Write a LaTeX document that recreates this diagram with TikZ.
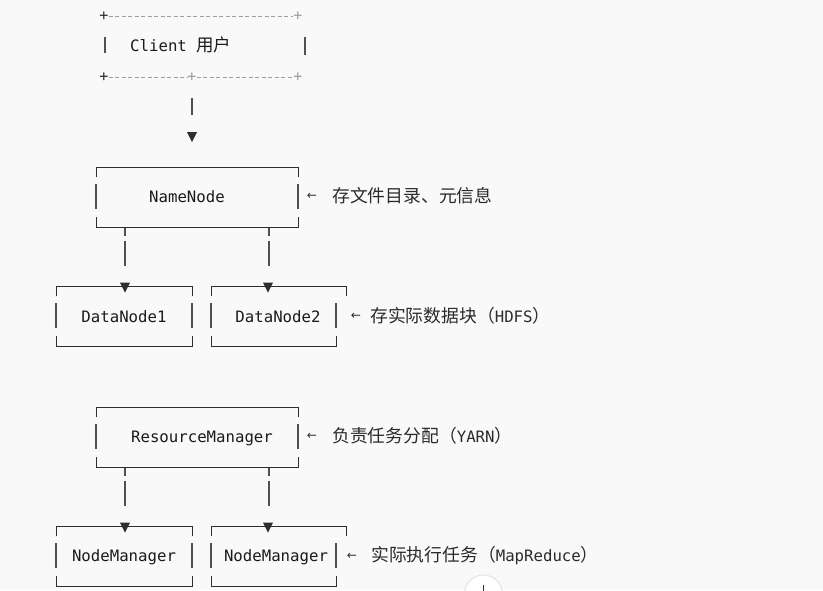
\documentclass[tikz,border=0pt]{standalone}
\usepackage{fontspec}
\setmainfont{DejaVu Sans Mono}
\newfontfamily\cjk{Noto Sans CJK SC}
\newfontfamily\symf{DejaVu Sans}
\definecolor{bgc}{HTML}{F9F9F9}
\definecolor{linec}{HTML}{2E2E2E}
\definecolor{sidec}{HTML}{505050}
\definecolor{dashc}{HTML}{9E9E9E}
\definecolor{txtc}{HTML}{1A1A1A}
\definecolor{notec}{HTML}{2A2A2A}
\newcommand\abox[4]{%
  \draw[boxline] (#1,#4+10) -- (#1,#4) -- (#2,#4) -- (#2,#4+10);
  \draw[boxline] (#1,#4+50) -- (#1,#4+60) -- (#3,#4+60) -- (#3,#4+50);
  \draw[sideline] (#1,#4+17) -- (#1,#4+42);
  \draw[sideline] (#3,#4+17) -- (#3,#4+42);
}
\newcommand\dtri[2]{%
  \fill[linec] (#1-5,#2-5) -- (#1+5,#2-5) -- (#1,#2+5) -- cycle;
}
\begin{document}
\begin{tikzpicture}[x=1pt,y=-1pt,
  boxline/.style={draw=linec, line width=1pt},
  sideline/.style={draw=sidec, line width=1.3pt},
  dashline/.style={draw=dashc, line width=0.9pt, dash pattern=on 4pt off 2.5pt},
  lbl/.style={font=\fontsize{15.7}{18}\selectfont, text=txtc, inner sep=0pt},
  note/.style={font=\cjk\fontsize{17.8}{20}\selectfont, text=notec, inner sep=0pt, anchor=base west},
  larrow/.style={font=\symf\fontsize{12}{13}\selectfont, text=notec, inner sep=0pt},
  plus/.style={font=\fontsize{15}{16}\selectfont, inner sep=0pt}
]
\fill[bgc] (0,0) rectangle (823,590);
\useasboundingbox (0,0) rectangle (823,590);
\begin{scope}
\clip (0,0) rectangle (823,590);

% Client box (ASCII, dashed)
\node[plus, text=linec] (c1) at (104,16) {+};
\node[plus, text=dashc] (c2) at (298,16) {+};
\node[plus, text=linec] (c3) at (104,77) {+};
\node[plus, text=dashc] (c4) at (192,77) {+};
\node[plus, text=dashc] (c5) at (298,77) {+};
\draw[dashline] (c1.east) -- (c2.west);
\draw[dashline] (c3.east) -- (c4.west);
\draw[dashline] (c4.east) -- (c5.west);
\draw[sideline] (105,37) -- (105,53);
\draw[sideline, line width=1.6pt] (305,37) -- (305,55);
\node[lbl, anchor=base west] (client) at (130,51.5) {Client {\cjk\fontsize{17.5}{20}\selectfont 用户}};

% connector client -> NameNode
\coordinate (cbot) at (192,98);
\coordinate (cend) at (192,115);
\draw[sideline] (cbot) -- (cend);
\dtri{192}{137}

% NameNode
\abox{96}{298}{298}{167}
\node[lbl, anchor=base] (nn) at (187,202) {NameNode};
\node[larrow] (nnarr) at (312,196) {←};
\node[note] (nnnote) at (332,202) {存文件目录、元信息};

% connectors NameNode -> DataNodes
\draw[sideline] (125,228) -- (125,236);
\draw[sideline] (125,241) -- (125,266);
\draw[sideline] (269,228) -- (269,236);
\draw[sideline] (269,241) -- (269,266);

% DataNodes
\abox{56}{192}{192}{286}
\abox{211}{346}{336}{286}
\dtri{125}{287.5}
\dtri{268}{287.5}
\node[lbl, anchor=base] (dn1) at (124,322) {DataNode1};
\node[lbl, anchor=base] (dn2) at (278,322) {DataNode2};
\node[larrow] (dnarr) at (356,316) {←};
\node[note] (dnnote) at (370,322) {存实际数据块（{\rmfamily\fontsize{15.7}{18}\selectfont HDFS}）};

% ResourceManager
\abox{96}{298}{298}{407}
\node[lbl, anchor=base] (rm) at (202,442) {ResourceManager};
\node[larrow] (rmarr) at (312,436) {←};
\node[note] (rmnote) at (332,442) {负责任务分配（{\rmfamily\fontsize{15.7}{18}\selectfont YARN}）};

% connectors RM -> NodeManagers
\draw[sideline] (125,468) -- (125,476);
\draw[sideline] (125,481) -- (125,506);
\draw[sideline] (269,468) -- (269,476);
\draw[sideline] (269,481) -- (269,506);

% NodeManagers
\abox{56}{192}{192}{526}
\abox{211}{346}{336}{526}
\dtri{125}{527.5}
\dtri{268}{527.5}
\node[lbl, anchor=base] (nm1) at (124,561.5) {NodeManager};
\node[lbl, anchor=base] (nm2) at (276,561.5) {NodeManager};
\node[larrow] (nmarr) at (352,556) {←};
\node[note] (nmnote) at (371,561.5) {实际执行任务（{\rmfamily\fontsize{15.7}{18}\selectfont MapReduce}）};

% scroll button (partially visible)
\draw[draw=black!12, fill=white, line width=0.8pt] (483.5,594) circle (19);
\draw[linec, line width=1pt] (483.5,585) -- (483.5,592);
\end{scope}
\end{tikzpicture}
\end{document}
